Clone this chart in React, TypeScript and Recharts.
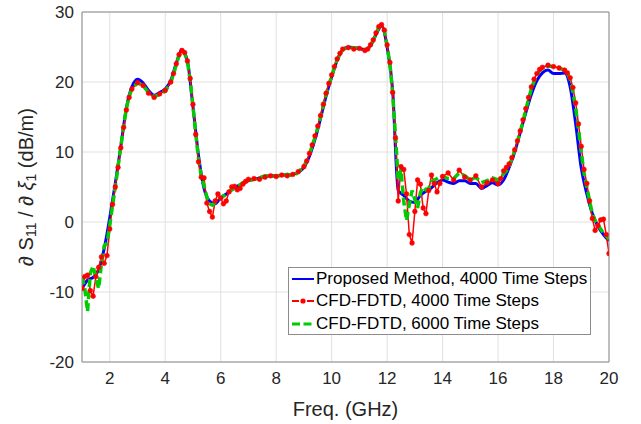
import { LineChart, Line, XAxis, YAxis, CartesianGrid, Legend, Label } from 'recharts';

// proposed method, sampled every 0.2 GHz
const freqProposed = [
  1.0, 1.2, 1.4, 1.6, 1.8, 2.0, 2.2, 2.4, 2.6, 2.8, 3.0, 3.2, 3.4, 3.6, 3.8, 4.0,
  4.2, 4.4, 4.6, 4.8, 5.0, 5.2, 5.4, 5.6, 5.8, 6.0, 6.2, 6.4, 6.6, 6.8, 7.0, 7.2,
  7.4, 7.6, 7.8, 8.0, 8.2, 8.4, 8.6, 8.8, 9.0, 9.2, 9.4, 9.6, 9.8, 10.0, 10.2, 10.4,
  10.6, 10.8, 11.0, 11.2, 11.4, 11.6, 11.8, 12.0, 12.2, 12.4, 12.6, 12.8, 13.0, 13.2,
  13.4, 13.6, 13.8, 14.0, 14.2, 14.4, 14.6, 14.8, 15.0, 15.2, 15.4, 15.6, 15.8, 16.0,
  16.2, 16.4, 16.6, 16.8, 17.0, 17.2, 17.4, 17.6, 17.8, 18.0, 18.2, 18.4, 18.6, 18.8,
  19.0, 19.2, 19.4, 19.6, 19.8, 20.0,
];
const proposed4000 = [
  -9.5, -8.3, -7.9, -6.8, -3.8, 0.6, 5.5, 10.8, 16.3, 19.3, 20.4, 19.9, 18.8, 18.1, 18.5, 19.0,
  20.2, 22.7, 24.6, 23.0, 16.5, 9.5, 4.8, 3.0, 2.6, 3.5, 4.0, 4.6, 5.1, 5.5, 5.9, 6.1,
  6.3, 6.5, 6.6, 6.6, 6.7, 6.7, 6.8, 7.1, 7.8, 9.4, 11.8, 14.8, 18.0, 20.7, 23.1, 24.6,
  25.0, 24.9, 24.8, 24.6, 25.2, 26.8, 28.0, 25.0, 18.8, 4.5, 3.8, 3.0, 2.8, 3.8,
  4.4, 4.9, 5.6, 6.0, 5.7, 5.5, 5.9, 5.9, 5.5, 5.5, 4.8, 5.2, 5.6, 5.3,
  6.0, 7.8, 10.0, 12.8, 15.6, 18.2, 20.2, 21.3, 21.7, 21.2, 21.2, 21.3, 19.3, 14.0,
  7.7, 4.0, 1.2, -0.6, -1.8, -2.7,
];

// CFD-FDTD runs: samples are denser where the curves move fast
const freqCfd = [
  1.0, 1.1, 1.2, 1.3, 1.4, 1.5, 1.6, 1.7, 1.8, 1.9, 2.0, 2.1, 2.2, 2.3, 2.4, 2.5, 2.6, 2.7, 2.8,
  3.0, 3.2, 3.4, 3.6, 3.8, 4.0, 4.2,
  4.3, 4.4, 4.5, 4.6, 4.7, 4.8, 4.9, 5.0, 5.1, 5.2, 5.3, 5.4, 5.5, 5.6, 5.7, 5.8, 5.9, 6.0,
  6.1, 6.2, 6.3, 6.4, 6.5, 6.6, 6.7, 6.8, 6.9, 7.0,
  7.2, 7.4, 7.6, 7.8, 8.0, 8.2, 8.4, 8.6, 8.8,
  9.0, 9.1, 9.2, 9.3, 9.4, 9.5, 9.6, 9.7, 9.8, 9.9, 10.0, 10.1, 10.2, 10.3, 10.4,
  10.6, 10.8, 11.0, 11.2,
  11.3, 11.4, 11.5, 11.6, 11.7, 11.8, 11.9, 12.0, 12.1, 12.2, 12.3, 12.4, 12.5, 12.6,
  12.7, 12.8, 12.9, 13.0, 13.1, 13.2, 13.3, 13.4, 13.5, 13.6, 13.7, 13.8, 13.9, 14.0,
  14.2, 14.4, 14.6, 14.8, 15.0, 15.2, 15.4, 15.6, 15.8, 16.0,
  16.1, 16.2, 16.3, 16.4, 16.5, 16.6, 16.7, 16.8, 16.9, 17.0, 17.1, 17.2, 17.3, 17.4, 17.5, 17.6,
  17.8, 18.0, 18.2, 18.4,
  18.5, 18.6, 18.7, 18.8, 18.9, 19.0, 19.1, 19.2, 19.3, 19.4, 19.5, 19.6, 19.7, 19.8, 19.9, 20.0,
];
const cfd4000 = [
  -9.5, -7.8, -7.6, -9.8, -10.6, -7.8, -6.5, -5.0, -5.9, -4.8, -1.0, 2.5, 5.0, 7.8, 10.6, 13.5, 16.0, 17.8, 19.0,
  19.9, 19.5, 18.4, 17.8, 18.3, 18.8, 20.0,
  21.2, 22.6, 23.9, 24.5, 24.2, 23.0, 20.5, 16.8, 12.5, 8.6, 6.4, 6.3, 2.7, 1.5, 0.7, 3.0, 4.0, 3.4,
  2.6, 3.0, 4.3, 5.0, 5.1, 4.6, 4.8, 5.4, 5.8, 6.1,
  6.2, 6.1, 6.4, 6.6, 6.5, 6.7, 6.6, 6.8, 7.2,
  7.9, 8.7, 9.8, 11.0, 12.3, 13.7, 15.2, 16.8, 18.4, 19.8, 21.0, 22.2, 23.3, 24.1, 24.7,
  24.9, 24.7, 24.8, 24.5,
  24.7, 25.3, 26.0, 27.0, 27.9, 28.2, 27.4, 25.3, 22.8, 18.5, 12.0, 3.0, 7.9, 7.5,
  4.0, -1.8, -3.0, 1.5, 6.0, 5.4, 2.0, 1.2, 4.5, 6.7, 5.5, 4.3, 5.5, 6.5,
  7.0, 6.0, 7.4, 6.4, 6.0, 6.6, 5.0, 5.6, 6.0, 5.5,
  6.2, 7.3, 7.8, 8.3, 9.2, 10.3, 11.6, 13.0, 14.6, 16.2, 17.8, 19.3, 20.4, 21.2, 21.8, 22.1,
  22.4, 22.2, 22.0, 21.7,
  21.3, 20.6, 19.2, 17.0, 14.0, 10.8, 7.5, 5.5, 3.0, 0.5, -1.2, -0.5, 0.3, 0.4, -1.8, -4.5,
];
const cfd6000 = [
  -7.8, -9.5, -12.8, -7.3, -6.3, -8.0, -9.5, -6.0, -3.4, -3.0, -0.5, 2.3, 5.0, 7.9, 10.8, 13.7, 16.2, 17.9, 19.0,
  19.9, 19.5, 18.5, 17.9, 18.2, 18.7, 19.9,
  21.1, 22.5, 23.8, 24.5, 24.1, 22.9, 20.3, 16.6, 12.6, 9.0, 6.5, 5.2, 3.6, 2.6, 2.4, 2.8, 3.2, 3.5,
  3.7, 3.9, 4.3, 4.6, 4.8, 5.0, 5.3, 5.6, 5.8, 5.9,
  6.1, 6.3, 6.6, 6.5, 6.6, 6.6, 6.8, 6.6, 7.1,
  8.0, 8.7, 9.7, 10.9, 12.1, 13.5, 15.0, 16.6, 18.2, 19.6, 20.8, 22.1, 23.2, 24.0, 24.6,
  25.0, 24.9, 24.8, 24.6,
  24.7, 25.2, 25.9, 26.9, 27.8, 28.1, 27.4, 25.2, 22.6, 18.3, 12.5, 6.0, 7.5, 3.0,
  0.2, 2.5, 4.5, 3.2, 2.0, 4.2, 5.0, 4.6, 4.8, 5.8, 6.0, 6.2, 6.5, 6.5,
  6.2, 6.2, 7.0, 6.6, 6.0, 6.4, 5.6, 5.9, 6.3, 6.0,
  6.3, 6.9, 7.3, 8.0, 9.0, 10.2, 11.5, 12.9, 14.4, 16.0, 17.6, 19.0, 20.1, 21.0, 21.6, 22.0,
  22.3, 22.2, 22.0, 21.7,
  21.2, 20.4, 18.6, 16.2, 13.2, 10.0, 7.0, 5.0, 3.0, 1.2, 0.2, -0.4, -1.0, -1.6, -2.0, -2.4,
];

const xTicks = [2, 4, 6, 8, 10, 12, 14, 16, 18, 20];
const yTicks = [-20, -10, 0, 10, 20, 30];

const FONT = '"Liberation Sans", Arial, Helvetica, sans-serif';
const TEXT = '#262626';
const FRAME = '#8c8c8c';

const zip = (xs: number[], ys: number[]) => xs.map((f, i) => ({ f, v: ys[i] }));

const series = [
  { key: 'p4000', name: 'Proposed Method, 4000 Time Steps', color: '#0000ff', width: 3, dash: undefined as string | undefined, curve: 'monotone' as const, dot: false, data: zip(freqProposed, proposed4000) },
  { key: 'c4000', name: 'CFD-FDTD, 4000 Time Steps', color: '#ff0000', width: 1.5, dash: undefined, curve: 'linear' as const, dot: true, data: zip(freqCfd, cfd4000) },
  { key: 'c6000', name: 'CFD-FDTD, 6000 Time Steps', color: '#00cc00', width: 3.5, dash: '8 4', curve: 'linear' as const, dot: false, data: zip(freqCfd, cfd6000) },
];

function YTitle({ viewBox }: any) {
  const cx = 26;
  const cy = viewBox ? viewBox.y + viewBox.height / 2 : 187;
  return (
    <text x={cx} y={cy} transform={`rotate(-90 ${cx} ${cy})`} textAnchor="middle" dominantBaseline="central"
      fontFamily={FONT} fontSize={20} fill={TEXT}>
      <tspan fontStyle="italic">∂</tspan>
      <tspan> S</tspan>
      <tspan dy={5} fontSize={14}>11</tspan>
      <tspan dy={-5}> / </tspan>
      <tspan fontStyle="italic">∂ ξ</tspan>
      <tspan dy={5} fontSize={14}>1</tspan>
      <tspan dy={-5}> (dB/m)</tspan>
    </text>
  );
}

function LegendBox() {
  return (
    <div style={{ width: 301, height: 66, border: `1px solid ${FRAME}`, background: '#fff', fontFamily: FONT, fontSize: 17, color: '#000' }}>
      {series.map(s => (
        <div key={s.key} style={{ display: 'flex', alignItems: 'center', height: 22.3 }}>
          <svg width={26} height={12} style={{ marginLeft: 1 }}>
            {s.key === 'c4000' ? (
              <>
                <line x1={2} y1={6} x2={9} y2={6} stroke={s.color} strokeWidth={2} />
                <line x1={17} y1={6} x2={24} y2={6} stroke={s.color} strokeWidth={2} />
                <circle cx={13} cy={6} r={2.6} fill={s.color} />
              </>
            ) : (
              <line x1={2} y1={6} x2={24} y2={6} stroke={s.color} strokeWidth={s.key === 'c6000' ? 3 : 2}
                strokeDasharray={s.key === 'c6000' ? '8 3.5' : undefined} />
            )}
          </svg>
          <span style={{ whiteSpace: 'nowrap', lineHeight: '22px' }}>{s.name}</span>
        </div>
      ))}
    </div>
  );
}

export default function App() {
  return (
    <div style={{ position: 'absolute', left: 0, top: 0, width: 641, height: 424, background: '#fff' }}>
      <LineChart width={641} height={424} margin={{ top: 12, right: 32, bottom: 32, left: 32 }}>
        <CartesianGrid stroke="#e0e0e0" strokeWidth={1} />
        <XAxis dataKey="f" type="number" domain={[1, 20]} ticks={xTicks} allowDataOverflow height={30}
          tick={{ fontSize: 17, fill: TEXT, fontFamily: FONT }} tickLine={false} tickSize={6} tickMargin={4}
          axisLine={{ stroke: FRAME }}>
          <Label value="Freq. (GHz)" position="insideBottom" offset={-24} fontSize={20} fill={TEXT} fontFamily={FONT} />
        </XAxis>
        <YAxis type="number" domain={[-20, 30]} ticks={yTicks} allowDataOverflow width={50}
          tick={{ fontSize: 17, fill: TEXT, fontFamily: FONT }} tickLine={false} tickSize={5} tickMargin={3}
          axisLine={{ stroke: FRAME }}>
          <Label content={<YTitle />} />
        </YAxis>
        {/* inward tick marks on all four sides plus the top/right frame */}
        <XAxis xAxisId="top" orientation="top" mirror dataKey="f" type="number" domain={[1, 20]} ticks={xTicks}
          allowDataOverflow tick={false} tickSize={5} tickLine={{ stroke: FRAME }} axisLine={{ stroke: FRAME }} />
        <XAxis xAxisId="bin" orientation="bottom" mirror dataKey="f" type="number" domain={[1, 20]} ticks={xTicks}
          allowDataOverflow tick={false} tickSize={5} tickLine={{ stroke: FRAME }} axisLine={false} />
        <YAxis yAxisId="right" orientation="right" mirror type="number" domain={[-20, 30]} ticks={yTicks}
          allowDataOverflow tick={false} tickSize={5} tickLine={{ stroke: FRAME }} axisLine={{ stroke: FRAME }} />
        <YAxis yAxisId="lin" orientation="left" mirror type="number" domain={[-20, 30]} ticks={yTicks}
          allowDataOverflow tick={false} tickSize={5} tickLine={{ stroke: FRAME }} axisLine={false} />
        {series.map(s => (
          <Line key={s.key} data={s.data} dataKey="v" name={s.name} type={s.curve} stroke={s.color}
            strokeWidth={s.width} strokeDasharray={s.dash}
            dot={s.dot ? { r: 2.4, fill: s.color, stroke: s.color, strokeWidth: 0.5 } : false}
            activeDot={false} isAnimationActive={false} />
        ))}
        <Legend layout="vertical" align="center" verticalAlign="middle" content={<LegendBox />}
          wrapperStyle={{ left: 288, top: 267, width: 303 }} />
      </LineChart>
    </div>
  );
}
